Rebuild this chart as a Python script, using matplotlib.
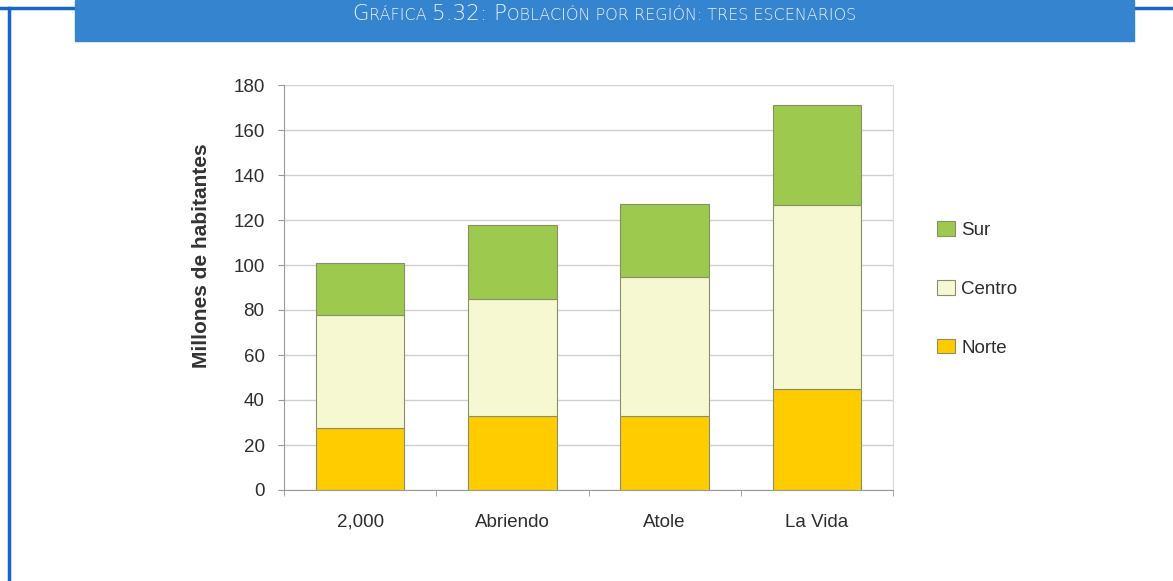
import numpy as np
import matplotlib
matplotlib.use('Agg')
from matplotlib import pyplot as plt
from matplotlib.patches import Rectangle
from matplotlib.lines import Line2D

# data (millions of inhabitants)
escenarios = ['2,000', 'Abriendo', 'Atole', 'La Vida']
norte = [27.5, 33.0, 33.0, 45.0]
centro = [50.2, 52.0, 61.5, 81.8]
sur = [23.0, 33.0, 32.5, 44.3]
series_names = ['Norte', 'Centro', 'Sur']
series_colors = ['#FFCC00', '#F6F8D2', '#9DC94E']

W, H = 1173, 581
fig = plt.figure(figsize=(W / 100, H / 100), dpi=100)
fig.patch.set_facecolor('white')

# page frame and header banner
fig.add_artist(Line2D([9 / W, 9 / W], [0, 1 - 8 / H], transform=fig.transFigure,
                      color='#1666C8', lw=2.5))
fig.add_artist(Line2D([0, 75 / W], [1 - 8 / H, 1 - 8 / H], transform=fig.transFigure,
                      color='#1666C8', lw=2.5))
fig.add_artist(Line2D([1134 / W, 1], [1 - 8 / H, 1 - 8 / H], transform=fig.transFigure,
                      color='#1666C8', lw=2.5))
fig.add_artist(Rectangle((75 / W, 1 - 41 / H), (1134 - 75) / W, 41 / H,
                         transform=fig.transFigure, color='#3584D0', zorder=2))

# small caps title, drawn piece by piece
pieces = [('G', 15.5), ('RÁFICA ', 11.5), ('5.32: ', 15.5), ('P', 15.5),
          ('OBLACIÓN POR REGIÓN: TRES ESCENARIOS', 11.5)]
renderer = fig.canvas.get_renderer()
texts = []
for s, size in pieces:
    t = fig.text(0, 1 - 20 / H, s, fontsize=size, color='#E8F0FA', family='DejaVu Sans',
                 fontweight='light', va='baseline', ha='left', zorder=3)
    texts.append(t)
widths = [t.get_window_extent(renderer).width for t in texts]
x = 604 - sum(widths) / 2
for t, w in zip(texts, widths):
    t.set_x(x / W)
    x += w

# chart
ax = fig.add_axes([284 / W, (H - 490) / H, 609 / W, 405 / H])
xpos = np.arange(len(escenarios))
bottom = np.zeros(len(escenarios))
for name, vals, col in zip(series_names, [norte, centro, sur], series_colors):
    ax.bar(xpos, vals, 0.58, bottom=bottom, color=col, edgecolor='#8A8F6A',
           linewidth=0.8, label=name, zorder=3)
    bottom += np.array(vals)

ax.set_xlim(-0.5, 3.5)
ax.set_ylim(0, 180)
ax.set_yticks(range(0, 181, 20))
ax.set_xticks(xpos)
ax.set_xticklabels(escenarios)
ax.set_xticks(np.arange(-0.5, 4, 1), minor=True)
ax.tick_params(axis='x', which='major', length=0, pad=17)
ax.tick_params(axis='x', which='minor', length=4, color='#999999')
ax.tick_params(axis='y', length=4, color='#999999', pad=10)
for lab in ax.get_xticklabels() + ax.get_yticklabels():
    lab.set_family('Liberation Sans')
    lab.set_fontsize(13.5)
    lab.set_color('#2E2E2E')
ax.grid(axis='y', color='#D0D0D0', lw=1, zorder=0)
for side in ['left', 'bottom']:
    ax.spines[side].set_color('#999999')
ax.spines['right'].set_color('#D8D8D8')
ax.spines['top'].set_visible(False)
ax.set_ylabel('Millones de habitantes', family='Liberation Sans', fontsize=15,
              fontweight='bold', color='#333333')
ax.yaxis.set_label_coords(-0.12, 0.578)

handles, labels = ax.get_legend_handles_labels()
leg = fig.legend(handles[::-1], labels[::-1], loc='center left',
                 bbox_to_anchor=(920 / W, 1 - 289 / H), frameon=False,
                 prop={'family': 'Liberation Sans', 'size': 13.5},
                 handlelength=0.95, handleheight=0.8, handletextpad=0.35,
                 labelspacing=2.2)
for t in leg.get_texts():
    t.set_color('#2E2E2E')

fig.savefig('out.png', dpi=100, facecolor='white')
